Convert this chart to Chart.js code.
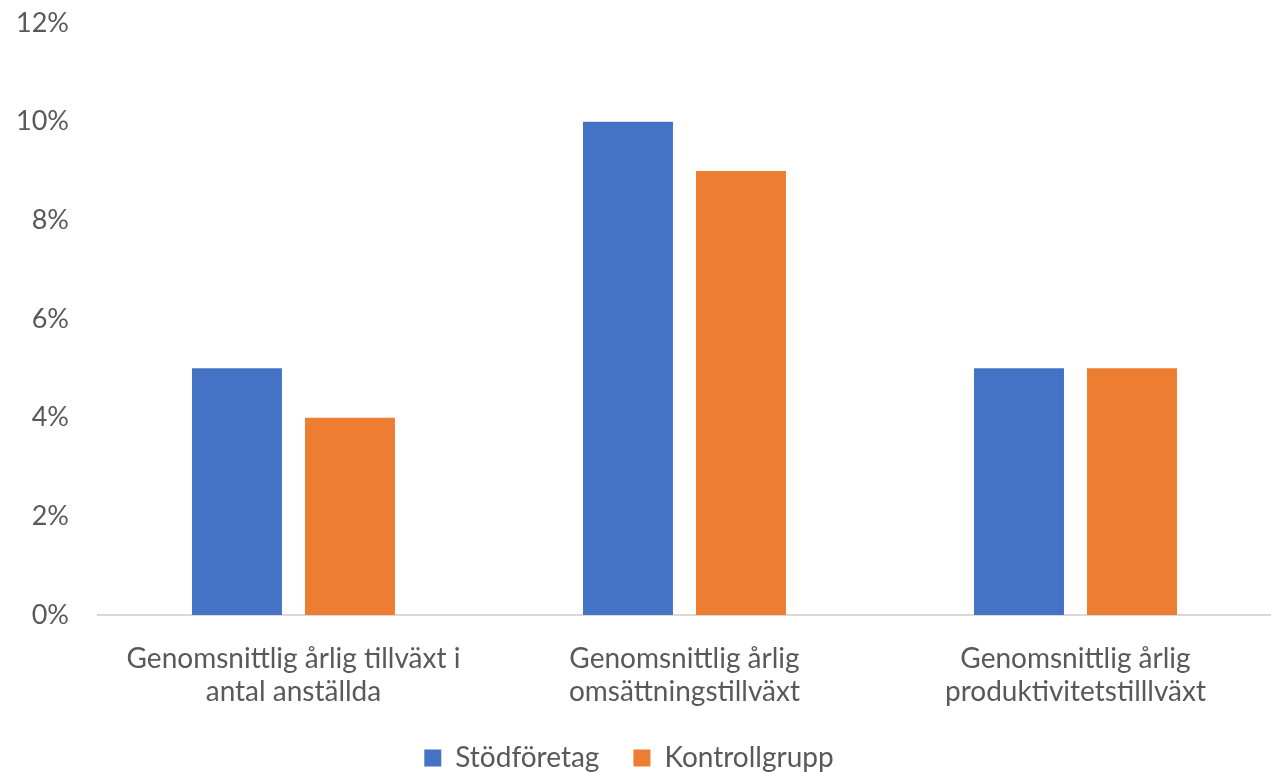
<!DOCTYPE html>
<html><head><meta charset="utf-8">
<script src="https://cdn.jsdelivr.net/npm/chart.js@4"></script>
<style>html,body{margin:0;padding:0;background:#fff;}#w{width:1271px;height:772px;}</style>
</head><body><div id="w"><canvas id="c"></canvas></div>
<script>
const categories = [
  ["Genomsnittlig årlig tillväxt i", "antal anställda"],
  ["Genomsnittlig årlig", "omsättningstillväxt"],
  ["Genomsnittlig årlig", "produktivitetstilllväxt"]
];
const seriesNames = ["Stödföretag", "Kontrollgrupp"];
const stodforetag = [5, 10, 5];
const kontrollgrupp = [4, 9, 5];
const yTicks = [0, 2, 4, 6, 8, 10, 12];

const FONT = "Lato, 'Open Sans', sans-serif";
new Chart(document.getElementById('c'), {
  type: 'bar',
  data: {
    labels: categories,
    datasets: [
      {label: seriesNames[0], data: stodforetag, backgroundColor: '#4472c4', categoryPercentage: 0.578, barPercentage: 0.796},
      {label: seriesNames[1], data: kontrollgrupp, backgroundColor: '#ed7d31', categoryPercentage: 0.578, barPercentage: 0.796}
    ]
  },
  options: {
    responsive: true, maintainAspectRatio: false, animation: false,
    layout: {padding: {top: 0, right: 0, left: -13, bottom: -10}},
    plugins: {
      tooltip: {enabled: false},
      legend: {
        position: 'bottom',
        labels: {boxWidth: 17, boxHeight: 17, color: '#595959', font: {family: FONT, size: 28}, padding: 34}
      }
    },
    scales: {
      x: {
        afterFit: (s) => { s.height = 95; },
        grid: {display: false, drawTicks: false},
        border: {display: true, color: '#d9d9d9', width: 2},
        ticks: {color: '#595959', font: {family: FONT, size: 28, lineHeight: 1.18}, padding: 27, maxRotation: 0}
      },
      y: {
        min: 0, max: 12,
        afterBuildTicks: (s) => { s.ticks = yTicks.map(v => ({value: v})); },
        afterFit: (s) => { s.paddingTop = 23; s.paddingBottom = 0; },
        grid: {display: false, drawTicks: false},
        border: {display: false},
        ticks: {color: '#595959', font: {family: FONT, size: 27}, padding: 29, callback: v => v + '%'}
      }
    }
  }
});
</script></body></html>
